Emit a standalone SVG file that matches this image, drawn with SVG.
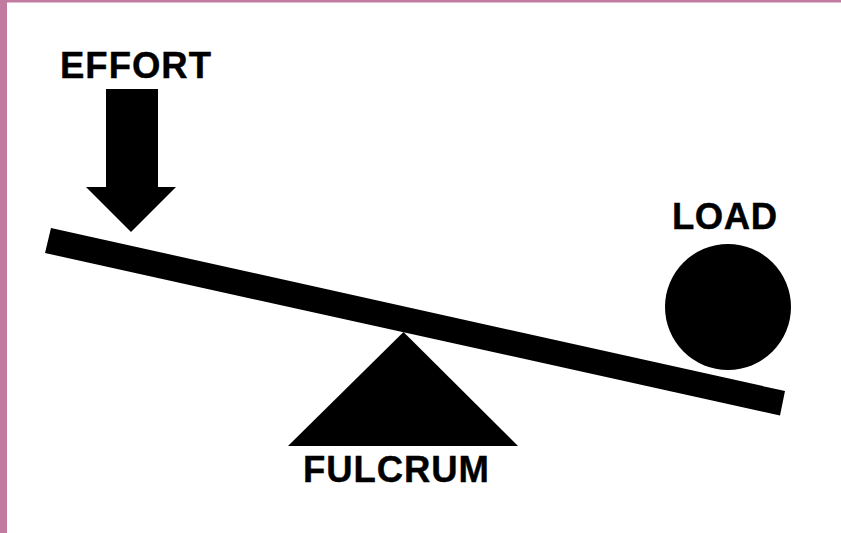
<svg xmlns="http://www.w3.org/2000/svg" width="841" height="533" viewBox="0 0 841 533">
<style>
.s{fill:#000}
text{font-family:"Liberation Sans",Arial,sans-serif;font-weight:700;font-size:36.5px;fill:#000;stroke:#000;stroke-width:.4px}
</style>
<rect width="841" height="533" fill="#fff"/>
<path d="M0 0H841V2.500H7V533H0Z" fill="#c27ba0"/>
<g id="lever"><polygon class="s" points="51,228 785,391 780,415.500 45,253"/></g>
<g id="effort"><polygon class="s" points="106,89 158,89 158,187 176,187 131,232 86,187 106,187"/><text x="60" y="78" textLength="151">EFFORT</text></g>
<g id="load"><circle class="s" cx="728" cy="307" r="63"/><text x="672" y="229" textLength="105">LOAD</text></g>
<g id="fulcrum"><polygon class="s" points="403.500,332 518,446 288,446"/><text x="303" y="482" textLength="186">FULCRUM</text></g>
</svg>
